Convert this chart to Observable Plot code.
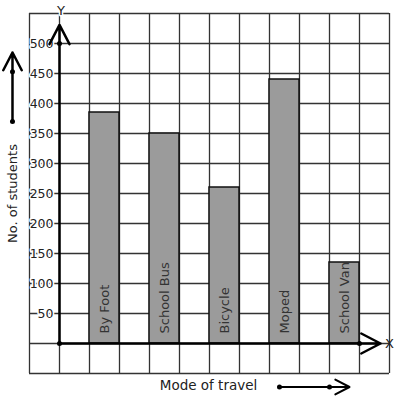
<!DOCTYPE html>
<html>
<head>
<meta charset="utf-8">
<script src="https://cdn.jsdelivr.net/npm/d3@7"></script>
<script src="https://cdn.jsdelivr.net/npm/@observablehq/plot@0.6"></script>
<style>
  html, body { margin: 0; padding: 0; background: #fff; }
  #chart svg { display: block; }
</style>
</head>
<body>
<div id="chart"></div>
<script>
// ---- Data ----
const modes = ["By Foot", "School Bus", "Bicycle", "Moped", "School Van"];
const students = [385, 350, 260, 440, 135];
const yTickValues = [50, 100, 150, 200, 250, 300, 350, 400, 450, 500];
const yAxisTitle = "No. of students";
const xAxisTitle = "Mode of travel";

// ---- Table built from the arrays (bars sit on every other grid cell) ----
const rows = modes.map((m, i) => ({mode: m, value: students[i], x1: 2 * i + 1, x2: 2 * i + 2}));

const gridX = d3.range(-1, 12, 1);
const gridY = d3.range(-50, 551, 50);

const ink = "#222";
const font = "DejaVu Sans, sans-serif";

const plot = Plot.plot({
  width: 397,
  height: 399,
  marginLeft: 29,
  marginRight: 8,
  marginTop: 13,
  marginBottom: 26,
  x: {domain: [-1, 11], axis: null},
  y: {domain: [-50, 550], axis: null},
  style: {fontFamily: font, fontSize: "12.5px", background: "white", overflow: "visible"},
  marks: [
    // grid
    Plot.ruleX(gridX, {x: d => d, y1: -50, y2: 550, stroke: "#333", strokeWidth: 1.3}),
    Plot.ruleY(gridY, {y: d => d, x1: -1, x2: 11, stroke: "#333", strokeWidth: 1.3}),
    // bars
    Plot.rectY(rows, {x1: "x1", x2: "x2", y1: 0, y2: "value", fill: "#9b9b9b", stroke: "#111", strokeWidth: 1.5}),
    // bar labels
    Plot.text(rows, {x: d => (d.x1 + d.x2) / 2, y: 0, text: "mode", rotate: -90, textAnchor: "start",
      dy: -10, fill: "#333", fontSize: 13}),
    // y tick labels with white halo
    Plot.text(yTickValues, {x: 0, y: d => d, text: d => String(d), textAnchor: "end", dx: -6,
      fill: ink, stroke: "white", strokeWidth: 3}),
    // axes with arrowheads
    Plot.arrow([{x1: 0, y1: 0, x2: 0, y2: 531}], {x1: "x1", y1: "y1", x2: "x2", y2: "y2",
      stroke: "#000", strokeWidth: 2.5, headLength: 13, headAngle: 55}),
    Plot.arrow([{x1: 0, y1: 0, x2: 10.7, y2: 0}], {x1: "x1", y1: "y1", x2: "x2", y2: "y2",
      stroke: "#000", strokeWidth: 2.5, headLength: 13, headAngle: 55}),
    Plot.dot([[0, 0], [0, 500], [10, 0]], {x: d => d[0], y: d => d[1], r: 2.5, fill: "#000"}),
    Plot.text(["Y"], {x: 0.05, y: 555, text: d => d, fill: ink, stroke: "white", strokeWidth: 3, fontSize: 13}),
    Plot.text(["X"], {x: 11, y: 0, text: d => d, fill: ink, fontSize: 13}),
    // y axis title with decorative arrow
    Plot.text([yAxisTitle], {x: -1.567, y: 250, text: d => d, rotate: -90, fill: ink, fontSize: 13}),
    Plot.arrow([{x1: -1.567, y1: 370, x2: -1.567, y2: 485}], {x1: "x1", y1: "y1", x2: "x2", y2: "y2",
      stroke: "#000", strokeWidth: 2.5, headLength: 12, headAngle: 55}),
    Plot.dot([[-1.567, 370], [-1.567, 453]], {x: d => d[0], y: d => d[1], r: 2.5, fill: "#000"}),
    // x axis title with decorative arrow
    Plot.text([xAxisTitle], {x: 4.967, y: -70, text: d => d, fill: ink, fontSize: 13.5}),
    Plot.arrow([{x1: 7.333, y1: -72.5, x2: 9.667, y2: -72.5}], {x1: "x1", y1: "y1", x2: "x2", y2: "y2",
      stroke: "#000", strokeWidth: 2, headLength: 12, headAngle: 55}),
    Plot.dot([[7.333, -72.5], [9.0, -72.5]], {x: d => d[0], y: d => d[1], r: 2.5, fill: "#000"})
  ]
});

document.getElementById("chart").appendChild(plot);
</script>
</body>
</html>
